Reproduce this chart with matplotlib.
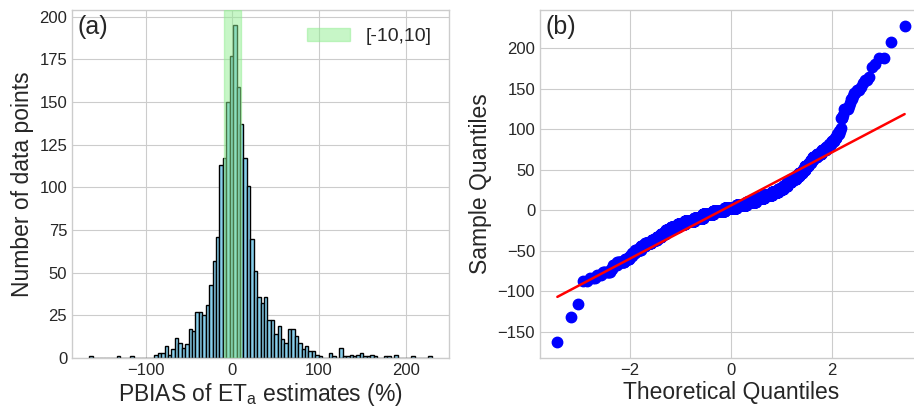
import numpy as np
import matplotlib
matplotlib.use("Agg")
import matplotlib.pyplot as plt
from statistics import NormalDist

# histogram of PBIAS values: 100 equal bins between bin_lo and bin_hi
bin_lo = -165.0
bin_hi = 230.0
counts = [
    1, 0, 0, 0, 0, 0, 0, 0, 1, 0,
    0, 0, 1, 0, 0, 0, 0, 0, 0, 2,
    3, 3, 7, 2, 5, 12, 9, 6, 8, 17,
    16, 27, 27, 25, 31, 43, 57, 71, 113, 117,
    150, 177, 195, 159, 137, 117, 101, 70, 51, 36,
    32, 36, 22, 22, 14, 19, 11, 9, 17, 17,
    13, 9, 5, 7, 4, 4, 2, 1, 0, 0,
    3, 1, 0, 6, 1, 1, 2, 1, 2, 3,
    1, 1, 2, 1, 0, 0, 1, 1, 0, 2,
    0, 0, 0, 0, 1, 0, 0, 0, 0, 1,
]
span_lo, span_hi = -10, 10
span_label = "[-10,10]"

edges = np.linspace(bin_lo, bin_hi, len(counts) + 1)
centers = 0.5 * (edges[:-1] + edges[1:])
pbias = np.repeat(centers, counts)

plt.style.use("seaborn-v0_8-whitegrid")
plt.rcParams["mathtext.default"] = "regular"

fig = plt.figure(figsize=(9.14, 4.08), dpi=100)
ax1 = fig.add_axes([72 / 914, 50 / 408, 377 / 914, 348 / 408])
ax2 = fig.add_axes([540 / 914, 50 / 408, 382 / 914, 348 / 408])

# (a) histogram
ax1.hist(pbias, bins=edges, color="skyblue", edgecolor="black", linewidth=1.0)
ax1.axvspan(span_lo, span_hi, color="lightgreen", alpha=0.5, label=span_label, zorder=3)
ax1.set_xticks([-100, 0, 100, 200])
ax1.set_yticks(np.arange(0, 201, 25))
ax1.set_ylim(0, 204)
ax1.set_xlabel("PBIAS of ET$_a$ estimates (%)", fontsize=16.5, labelpad=2)
ax1.set_ylabel("Number of data points", fontsize=16.5)
ax1.tick_params(labelsize=12)
ax1.legend(loc="upper right", fontsize=14, handlelength=2.2)
ax1.text(0.015, 0.985, "(a)", transform=ax1.transAxes, fontsize=18, va="top")

# (b) normal QQ plot
sample = np.sort(pbias)
n = len(sample)
pos = (np.arange(1, n + 1) - 0.375) / (n + 0.25)
theo = np.array([NormalDist().inv_cdf(p) for p in pos])
ax2.plot(theo, sample, "bo", markersize=7.5)
ax2.plot(theo, sample.mean() + sample.std() * theo, "r-", linewidth=1.8)
ax2.set_xticks([-2, 0, 2])
ax2.set_yticks(np.arange(-150, 201, 50))
ax2.set_xlabel("Theoretical Quantiles", fontsize=16.5, labelpad=2)
ax2.set_ylabel("Sample Quantiles", fontsize=16.5)
ax2.tick_params(labelsize=12)
ax2.text(0.015, 0.985, "(b)", transform=ax2.transAxes, fontsize=18, va="top")

fig.savefig("out.png", dpi=100)
